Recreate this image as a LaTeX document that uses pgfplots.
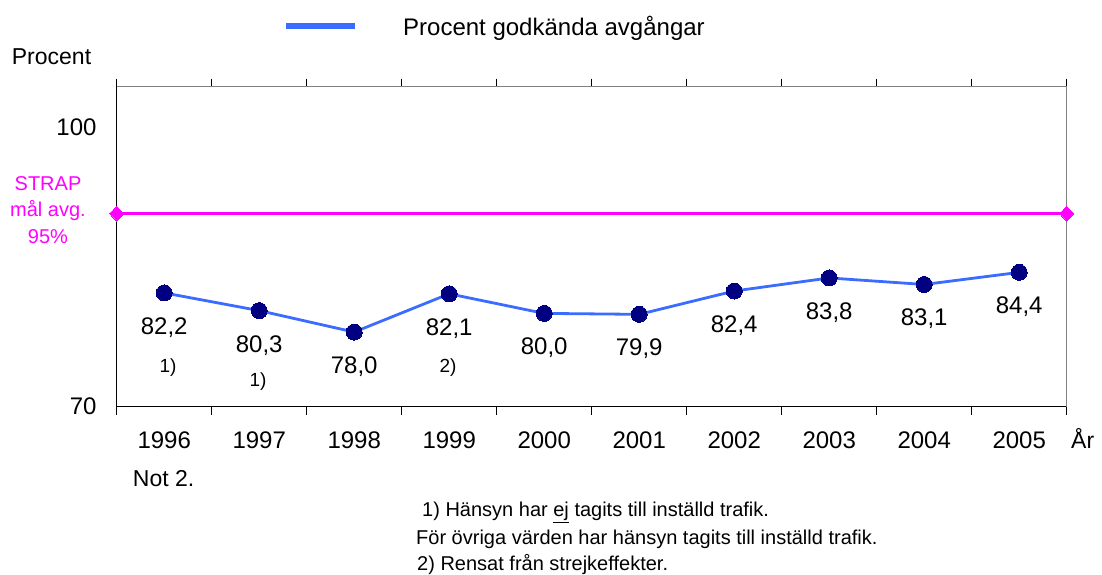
\documentclass[border=0pt]{standalone}
\usepackage{fontspec}
\setmainfont{Liberation Sans}
\usepackage{pgfplots}
\pgfplotsset{compat=1.18}
\usepackage{pgfplotstable}
\definecolor{lineblue}{HTML}{3B6CFF}
\definecolor{navy}{HTML}{000080}
\definecolor{strap}{HTML}{FF00FF}
\pgfplotstableread{
x y lab
0 82.2 82,2
1 80.3 80,3
2 78.0 78,0
3 82.1 82,1
4 80.0 80,0
5 79.9 79,9
6 82.4 82,4
7 83.8 83,8
8 83.1 83,1
9 84.4 84,4
}\datatable
\pgfplotstableread{
x y
-0.5 90.7
9.5 90.7
}\straptable
\newcommand{\fs}[1]{\fontsize{#1}{#1}\selectfont}
\begin{document}
\begin{tikzpicture}
\path[use as bounding box] (0pt,0pt) rectangle (1102pt,574pt);
\begin{axis}[
  at={(116.7pt,167.3pt)}, anchor=south west,
  scale only axis, width=950pt, height=320pt,
  xmin=-0.5, xmax=9.5, ymin=70, ymax=104.3,
  axis line style={draw=none},
  clip=false,
  xtick={0,1,2,3,4,5,6,7,8,9},
  xticklabels={1996,1997,1998,1999,2000,2001,2002,2003,2004,2005},
  ytick={70,100}, yticklabels={70,100},
  major tick length=0pt,
  xticklabel style={anchor=base, yshift=-41.6pt, inner sep=0pt, font=\fs{24}},
  yticklabel style={anchor=east, xshift=-20pt, inner sep=0pt, font=\fs{24}},
  extra x ticks={-0.5,0.5,1.5,2.5,3.5,4.5,5.5,6.5,7.5,8.5,9.5},
  extra x tick labels={},
  extra x tick style={major tick length=8pt, tick align=outside, tick style={black, line width=1.2pt}},
]
\draw[black, line width=1.5pt] (rel axis cs:0,1) -- (rel axis cs:0,0) -- (rel axis cs:1,0);
\draw[gray, line width=1.5pt] (rel axis cs:0,1) -- (rel axis cs:1,1) -- (rel axis cs:1,0);
\addplot[strap, line width=3pt, mark=diamond*, mark size=7.5pt,
  mark options={fill=strap, draw=strap, line width=0pt, xscale=1.25}] table[x=x,y=y]{\straptable};
\addplot[lineblue, line width=2.8pt, mark=*, mark size=8pt,
  mark options={fill=navy, draw=navy, line width=0pt},
  nodes near coords, point meta=explicit symbolic,
  every node near coord/.append style={anchor=base, yshift=-41.5pt, inner sep=0pt, font=\fs{24}, text=black}
  ] table[x=x,y=y,meta=lab]{\datatable};
\end{axis}
% legend
\draw[lineblue, line width=6.5pt] (286pt,548pt) -- (355pt,548pt);
\node[anchor=base west, inner sep=0pt, font=\fs{24}] at (403pt,538.3pt) {Procent godkända avgångar};
% axis titles
\node[anchor=base west, inner sep=0pt, font=\fs{23}] at (11.7pt,509.7pt) {Procent};
\node[anchor=base west, inner sep=0pt, font=\fs{23}] at (1071pt,125.7pt) {År};
\node[anchor=base west, inner sep=0pt, font=\fs{23}] at (132.7pt,87.3pt) {Not 2.};
% STRAP label
\node[anchor=base, inner sep=0pt, font=\fs{20}, text=strap] at (48pt,383.3pt) {STRAP};
\node[anchor=base, inner sep=0pt, font=\fs{20}, text=strap] at (48pt,357.3pt) {mål avg.};
\node[anchor=base, inner sep=0pt, font=\fs{20}, text=strap] at (48pt,330.7pt) {95\%};
% footnote markers
\node[anchor=base, inner sep=0pt, font=\fs{19}] at (168pt,201.3pt) {1)};
\node[anchor=base, inner sep=0pt, font=\fs{19}] at (258pt,188pt) {1)};
\node[anchor=base, inner sep=0pt, font=\fs{19}] at (448pt,201.3pt) {2)};
% footnotes
\node[anchor=base west, inner sep=0pt, font=\fs{20}] at (422pt,57.3pt) {1) Hänsyn har \underline{ej} tagits till inställd trafik.};
\node[anchor=base west, inner sep=0pt, font=\fs{20}] at (416pt,29.7pt) {För övriga värden har hänsyn tagits till inställd trafik.};
\node[anchor=base west, inner sep=0pt, font=\fs{20}] at (417pt,4pt) {2) Rensat från strejkeffekter.};
\end{tikzpicture}
\end{document}
